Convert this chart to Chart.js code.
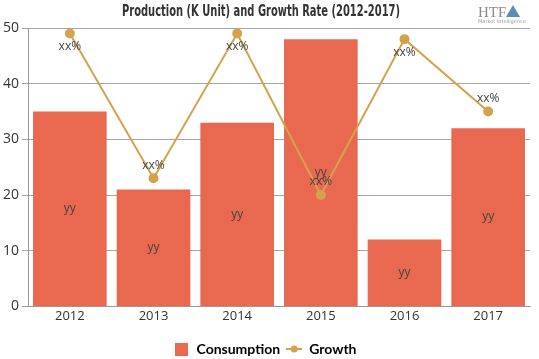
<!DOCTYPE html>
<html>
<head>
<meta charset="utf-8">
<script src="https://cdn.jsdelivr.net/npm/chart.js@4/dist/chart.umd.min.js"></script>
<style>
  html, body { margin: 0; padding: 0; background: #fff; }
  #wrap { width: 539px; height: 359px; position: relative; }
</style>
</head>
<body>
<div id="wrap"><canvas id="chart"></canvas></div>
<script>
const years = ["2012", "2013", "2014", "2015", "2016", "2017"];
const consumption = [35, 21, 33, 48, 12, 32];
const growth = [49, 23, 49, 20, 48, 35];
const barLabels = ["yy", "yy", "yy", "yy", "yy", "yy"];
const lineLabels = ["xx%", "xx%", "xx%", "xx%", "xx%", "xx%"];
const titleText = "Production (K Unit) and Growth Rate (2012-2017)";

const barColor = "#E8694F";
const lineColor = "#D4A24C";

function marker(w, h, draw) {
  const c = document.createElement("canvas");
  c.width = w;
  c.height = h;
  draw(c.getContext("2d"));
  return c;
}

// legend markers: filled square for the bars, line with dot for the growth line
const consumptionMarker = marker(13, 13, g => {
  g.fillStyle = barColor;
  g.fillRect(0, 0, 13, 13);
});
const growthMarker = marker(16, 8, g => {
  g.strokeStyle = lineColor;
  g.lineWidth = 2;
  g.beginPath();
  g.moveTo(0, 4);
  g.lineTo(16, 4);
  g.stroke();
  g.fillStyle = lineColor;
  g.beginPath();
  g.arc(8, 4, 3.5, 0, Math.PI * 2);
  g.fill();
});

const valueLabels = {
  id: "valueLabels",
  afterDatasetsDraw(chart) {
    const ctx = chart.ctx;
    const area = chart.chartArea;
    ctx.save();
    ctx.font = "12px 'Open Sans', sans-serif";
    ctx.fillStyle = "#444";
    ctx.textAlign = "center";
    ctx.textBaseline = "middle";
    chart.getDatasetMeta(0).data.forEach((bar, i) => {
      ctx.fillText(barLabels[i], bar.x, (bar.y + bar.base) / 2);
    });
    chart.getDatasetMeta(1).data.forEach((pt, i) => {
      let y = pt.y - 13;
      if (y < area.top + 6) y = pt.y + 13;
      ctx.fillText(lineLabels[i], pt.x, y);
    });
    ctx.restore();
  }
};

// heavy condensed title, squeezed horizontally like the original
const condensedTitle = {
  id: "condensedTitle",
  afterDraw(chart) {
    const ctx = chart.ctx;
    ctx.save();
    ctx.font = "bold 16px 'DejaVu Sans', sans-serif";
    ctx.fillStyle = "#333";
    ctx.textAlign = "center";
    ctx.textBaseline = "middle";
    const w = ctx.measureText(titleText).width;
    ctx.translate(261, 12);
    ctx.scale(278 / w, 1);
    ctx.fillText(titleText, 0, 0);
    ctx.restore();
  }
};

const logo = {
  id: "logo",
  afterDraw(chart) {
    const ctx = chart.ctx;
    ctx.save();
    ctx.fillStyle = "#8a8a8a";
    ctx.font = "15px 'Liberation Serif', serif";
    ctx.textBaseline = "alphabetic";
    ctx.fillText("HTF", 478, 17);
    ctx.fillStyle = "#5b8fb8";
    ctx.beginPath();
    ctx.moveTo(506, 17);
    ctx.lineTo(513, 5);
    ctx.lineTo(520, 17);
    ctx.closePath();
    ctx.fill();
    ctx.fillStyle = "#999";
    ctx.font = "5px 'DejaVu Sans', sans-serif";
    ctx.fillText("Market Intelligence", 478, 23);
    ctx.restore();
  }
};

new Chart(document.getElementById("chart"), {
  data: {
    labels: years,
    datasets: [
      {
        type: "bar",
        label: "Consumption",
        data: consumption,
        backgroundColor: barColor,
        categoryPercentage: 0.88,
        barPercentage: 1,
        order: 2
      },
      {
        type: "line",
        label: "Growth",
        data: growth,
        borderColor: lineColor,
        backgroundColor: lineColor,
        borderWidth: 2,
        pointRadius: 4,
        pointHoverRadius: 4,
        tension: 0,
        order: 1
      }
    ]
  },
  options: {
    responsive: true,
    maintainAspectRatio: false,
    animation: false,
    layout: { padding: { left: 0, right: 9, top: 28, bottom: -7 } },
    plugins: {
      title: { display: false },
      legend: {
        position: "bottom",
        labels: {
          color: "#333",
          font: { family: "Lato, sans-serif", size: 14, weight: "bold" },
          usePointStyle: true,
          boxHeight: 13,
          pointStyleWidth: 16,
          padding: 6,
          generateLabels() {
            return [
              { text: "Consumption", fillStyle: barColor, strokeStyle: barColor, lineWidth: 0, pointStyle: consumptionMarker, datasetIndex: 0 },
              { text: "Growth", fillStyle: lineColor, strokeStyle: lineColor, lineWidth: 0, pointStyle: growthMarker, datasetIndex: 1 }
            ];
          }
        }
      },
      tooltip: { enabled: false }
    },
    scales: {
      x: {
        grid: { display: false, drawTicks: false },
        border: { color: "#999" },
        ticks: { color: "#333", font: { family: "'Open Sans', sans-serif", size: 13 }, padding: 2 },
        afterFit(axis) { axis.height += 10; }
      },
      y: {
        min: 0,
        max: 50,
        ticks: { stepSize: 10, color: "#333", font: { family: "'Open Sans', sans-serif", size: 14 }, padding: 3 },
        grid: { color: "#a6a6a6", tickLength: 6 },
        border: { color: "#999" }
      }
    }
  },
  plugins: [valueLabels, condensedTitle, logo]
});
</script>
</body>
</html>
